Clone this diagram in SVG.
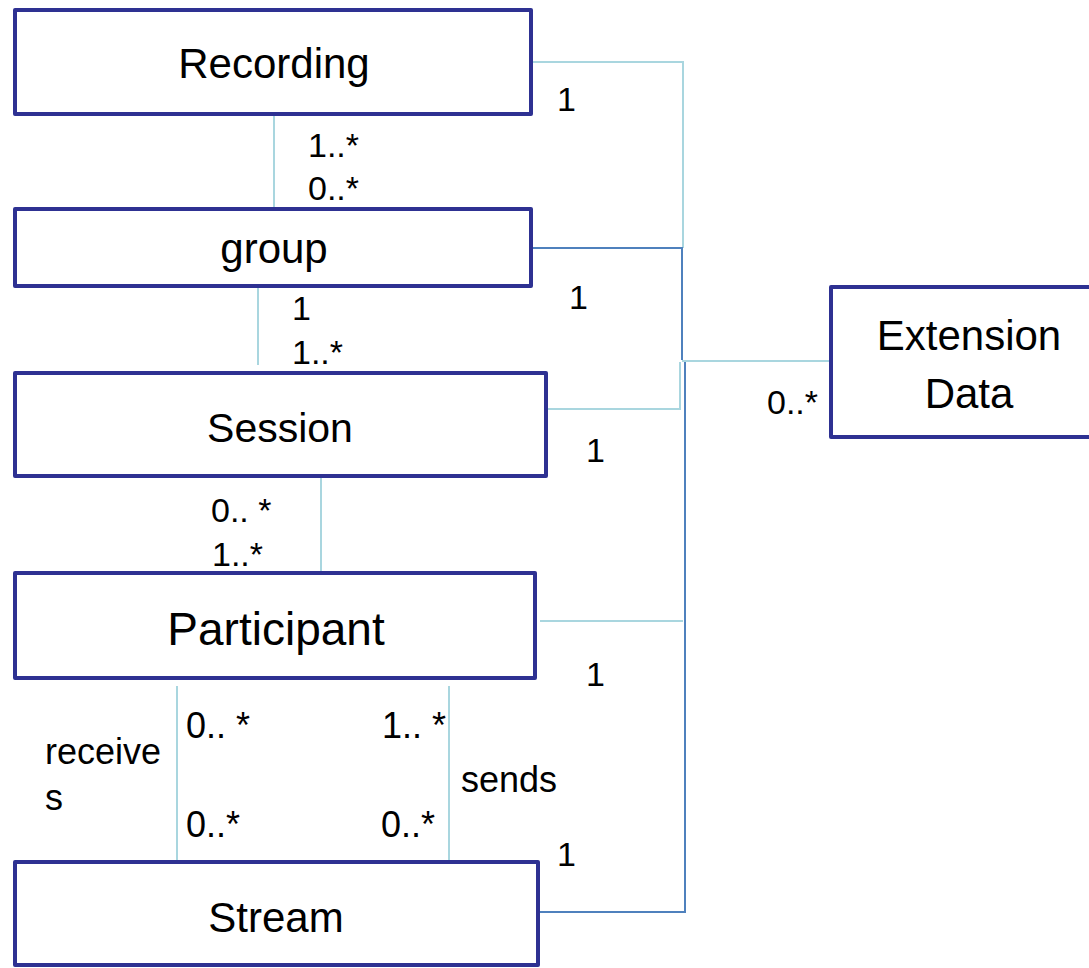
<svg xmlns="http://www.w3.org/2000/svg" width="1089" height="968" viewBox="0 0 1089 968">
<style>
.box{fill:#fff;stroke:#2e3192;stroke-width:4;stroke-linejoin:round}
.t{font-family:"Liberation Sans",Arial,sans-serif;fill:#000;text-anchor:middle}
.n{font-size:42px}
.l{font-family:"Liberation Sans",Arial,sans-serif;fill:#000;font-size:34px}
.a{font-size:36px}
.lc{fill:none;stroke:#a9d6df;stroke-width:2}
.dc{fill:none;stroke:#4f81bd;stroke-width:2}
</style>
<rect width="1089" height="968" fill="#fff"/>
<g id="connectors">
<polyline class="lc" points="531,62 683,62 683,248"/>
<polyline class="dc" points="533,248 682,248 682,360"/>
<polyline class="lc" points="682,361 831,361"/>
<polyline class="lc" points="546,409 680,409 680,362"/>
<polyline class="dc" points="538,912 685,912 685,362"/>
<polyline class="lc" points="540,621 683,621"/>
<line class="lc" x1="274" y1="114" x2="274" y2="209"/>
<line class="lc" x1="258" y1="286" x2="258" y2="365"/>
<line class="lc" x1="321" y1="478" x2="321" y2="573"/>
<line class="lc" x1="177" y1="686" x2="177" y2="861"/>
<line class="lc" x1="449" y1="686" x2="449" y2="861"/>
</g>
<g id="recording"><rect class="box" x="15" y="10" width="516" height="104"/><text class="t n" x="274" y="78">Recording</text></g>
<g id="group"><rect class="box" x="15" y="209" width="516" height="77"/><text class="t n" x="274" y="263">group</text></g>
<g id="session"><rect class="box" x="15" y="373" width="531" height="103"/><text class="t" style="font-size:41px" x="280" y="442">Session</text></g>
<g id="participant"><rect class="box" x="15" y="573" width="520" height="105"/><text class="t" style="font-size:46px" x="276" y="645">Participant</text></g>
<g id="stream"><rect class="box" x="15" y="862" width="523" height="103"/><text class="t n" x="276" y="932">Stream</text></g>
<g id="extension"><rect class="box" x="831" y="287" width="262" height="150"/><text class="t n" x="969" y="350">Extension</text><text class="t n" x="969" y="408">Data</text></g>
<g id="labels">
<text class="l" x="557" y="111">1</text>
<text class="l" x="308" y="157">1..*</text>
<text class="l" x="308" y="200">0..*</text>
<text class="l" x="569" y="309">1</text>
<text class="l" x="292" y="320">1</text>
<text class="l" x="292" y="364">1..*</text>
<text class="l" x="767" y="414">0..*</text>
<text class="l" x="586" y="462">1</text>
<text class="l" x="211" y="522">0.. *</text>
<text class="l" x="212" y="566">1..*</text>
<text class="l" x="586" y="686">1</text>
<text class="l a" x="186" y="738">0.. *</text>
<text class="l a" x="382" y="738">1.. *</text>
<text class="l a" x="45" y="764">receive</text>
<text class="l a" x="45" y="810">s</text>
<text class="l a" x="461" y="792">sends</text>
<text class="l a" x="186" y="837">0..*</text>
<text class="l a" x="381" y="837">0..*</text>
<text class="l" x="557" y="866">1</text>
</g>
</svg>
